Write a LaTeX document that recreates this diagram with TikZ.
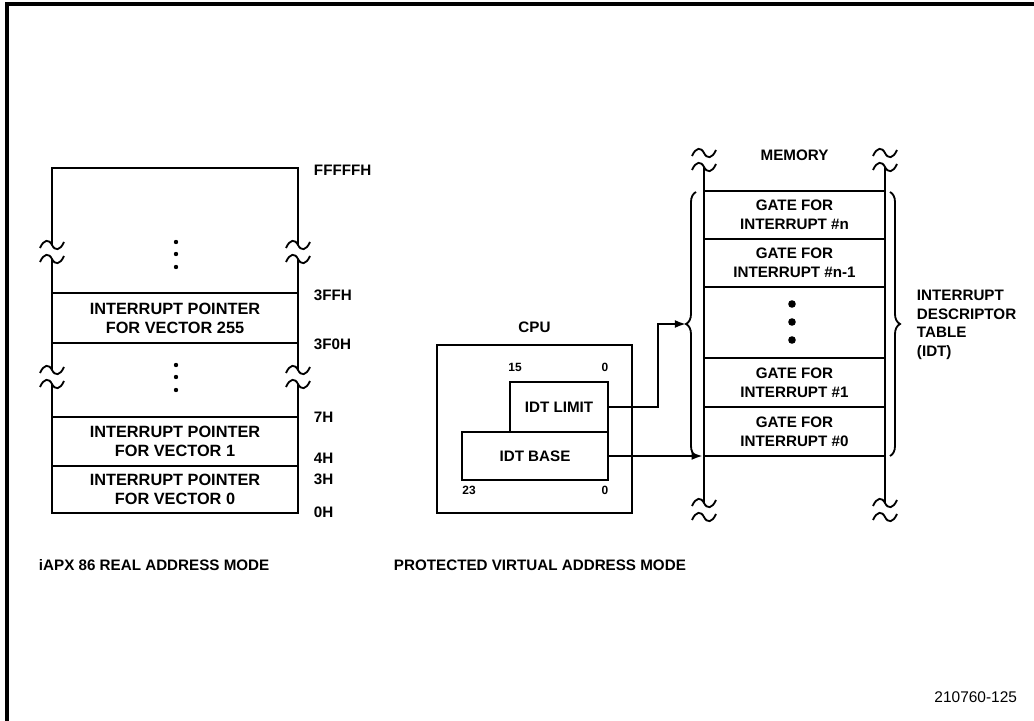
\documentclass[tikz,border=0pt]{standalone}
\usepackage{fontspec}
\setmainfont{Liberation Sans}
\usetikzlibrary{arrows.meta,positioning,decorations.pathreplacing}
\tikzset{wall/.style={line width=1.8pt},
  slot/.style={draw,line width=1.8pt,align=center,inner sep=0pt,font=\bfseries\fontsize{10.8}{13.2}\selectfont},
  vecslot/.style={slot,minimum width=6.15cm,font=\bfseries\fontsize{11.6}{13.6}\selectfont},
  lbl/.style={font=\bfseries\fontsize{10.8}{13.2}\selectfont},
  bitno/.style={font=\bfseries\fontsize{8.5}{9}\selectfont},
  ptr/.style={-{Latex[length=2.8mm,width=2mm]},line width=1.3pt},
  curly/.style={decorate,decoration={brace,amplitude=0.25cm},line width=1.3pt},
  brk/.pic={
    \fill[white] (-4,-7) rectangle (4,7);
    \foreach \c in {-7,7}
      \draw[line width=1.3pt] (-12,\c+3) .. controls (-8,\c-6) and (-3,\c-6) .. (0,\c)
        .. controls (3,\c+6) and (8,\c+6) .. (12,\c-3);}}

\begin{document}
\begin{tikzpicture}[x=0.025cm,y=-0.025cm]
\useasboundingbox (0,0) rectangle (1034,721);
\draw[line width=2.2pt] (1034,4) -- (7,4) -- (7,721);

% real address mode table
\draw[wall] (52,513) -- (52,168) -- (298,168) -- (298,513);
\node[vecslot,minimum height=1.25cm] (p255) at (175,318) {INTERRUPT POINTER\\FOR VECTOR 255};
\node[vecslot,minimum height=1.225cm] (p1) at (175,441.5) {INTERRUPT POINTER\\FOR VECTOR 1};
\node[vecslot,minimum height=1.175cm] (p0) at (175,489.5) {INTERRUPT POINTER\\FOR VECTOR 0};
\foreach \x in {52,298} {
 \pic at (\x,252) {brk};
 \pic at (\x,377) {brk};}
\foreach \y in {242,254,267} \fill (176,\y) circle (0.055cm);
\foreach \y in {365,377,390} \fill (176,\y) circle (0.055cm);
\foreach \y/\t in {170/FFFFFH,295/3FFH,344/3F0H,417/7H,458/4H,479/3H,512/0H}
 \node[lbl,anchor=west] (a\t) at (309,\y) {\t};
\node[lbl,anchor=west] (realmode) at (34,565) {iAPX 86 REAL ADDRESS MODE};

% cpu registers
\node[draw,line width=1.8pt,minimum width=4.875cm,minimum height=4.2cm] (cpu) at (534.5,429) {};
\node[lbl,above=1.4mm of cpu] (cpulbl) {CPU};
\node[slot,minimum width=2.45cm,minimum height=1.25cm] (lim) at (559,407) {IDT LIMIT};
\node[slot,minimum width=3.65cm,minimum height=1.2cm] (base) at (535,456) {IDT BASE};
\node[bitno] (b15) at (515,367) {15};
\node[bitno] (b0a) at (605,367) {0};
\node[bitno] (b23) at (469,490) {23};
\node[bitno] (b0b) at (605,490) {0};

% memory with the idt
\draw[wall] (704,167) -- (704,503);
\draw[wall] (885,167) -- (885,503);
\foreach \x in {704,885} {
 \pic at (\x,160) {brk};
 \pic at (\x,510) {brk};}
\node[lbl] (memlbl) at (794.5,155) {MEMORY};
\node[slot,minimum width=4.525cm,minimum height=1.2cm] (mn) at (794.5,215) {GATE FOR\\INTERRUPT \#n};
\node[slot,minimum width=4.525cm,minimum height=1.2cm] (mn1) at (794.5,263) {GATE FOR\\INTERRUPT \#n-1};
\node[slot,minimum width=4.525cm,minimum height=1.225cm] (m1) at (794.5,382.5) {GATE FOR\\INTERRUPT \#1};
\node[slot,minimum width=4.525cm,minimum height=1.225cm] (m0) at (794.5,431.5) {GATE FOR\\INTERRUPT \#0};
\foreach \y in {304,322,340} \fill (792,\y) circle (0.095cm);
\draw[curly] (696,456) -- (696,192);
\draw[curly] (890,192) -- (890,456);
\node[lbl,anchor=west,align=left] (idt) at (912,325) {INTERRUPT\\DESCRIPTOR\\TABLE\\(IDT)};
\coordinate (idtin) at (686,324);
\draw[ptr] (lim.east) -- ++(49,0) |- (idtin);
\draw[ptr] (base.east) -- (base.east -| m0.west);
\node[lbl,anchor=west] (protmode) at (389,565) {PROTECTED VIRTUAL ADDRESS MODE};

\node[anchor=east,font=\fontsize{11}{12}\selectfont] (fig) at (1022,697) {210760-125};
\end{tikzpicture}
\end{document}
